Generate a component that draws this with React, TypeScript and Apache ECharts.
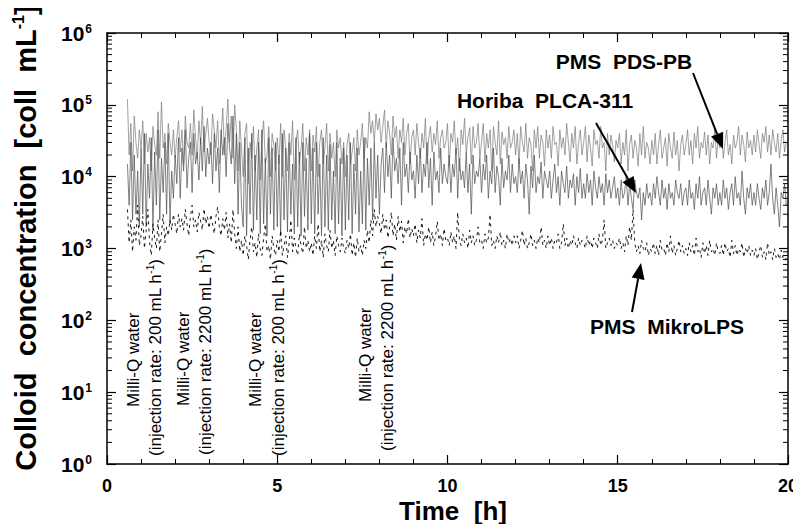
import React, { useEffect, useRef } from 'react';
import * as echarts from 'echarts';

const FONT = '"Liberation Sans", Arial, Helvetica, sans-serif';

// Time grid: first sample at 0.6 h, one sample every 0.05 h
const T_START_HUNDREDTHS = 60;
const T_STEP_HUNDREDTHS = 5;

// PMS PDS-PB (values in 1000 coll/mL)
const pdsPbK = [
  120, 20, 55, 12, 70, 30, 18, 45,
  25, 60, 15, 40, 22, 35, 12, 50, 28, 20, 80, 18, 110, 25, 40, 15, 55, 30, 20, 45,
  18, 35, 60, 22, 45, 15, 70, 30, 25, 55, 20, 85, 35, 18, 60, 28, 95, 22, 40, 65,
  30, 20, 75, 45, 25, 60, 15, 35, 90, 20, 50, 120, 30, 70, 18, 100, 45, 12, 60, 25,
  10, 40, 55, 8, 30, 18, 50, 12, 25, 45, 9, 35, 60, 15, 20, 50, 10, 40, 28, 12,
  35, 15, 55, 10, 45, 25, 12, 40, 20, 60, 9, 30, 45, 15, 25, 55, 12, 35, 20, 45,
  12, 38, 22, 50, 10, 30, 45, 15, 25, 55, 12, 40, 18, 30, 10, 45, 25, 35, 15, 30,
  10, 28, 40, 15, 22, 35, 12, 45, 20, 30, 55, 18, 35, 25, 80, 40, 60, 30, 75, 45,
  65, 30, 50, 85, 25, 60, 40, 20, 70, 35, 50, 18, 45, 30, 65, 20, 40, 55, 15, 35,
  45, 20, 55, 30, 18, 40, 25, 65, 15, 35, 50, 22, 40, 28, 60, 18, 35, 45, 25, 30,
  55, 14, 40, 30, 60, 20, 35, 12, 45, 28, 65, 22, 35, 48, 15, 50, 25, 30, 55, 18,
  30, 55, 16, 40, 25, 45, 12, 50, 30, 20, 60, 15, 42, 28, 35, 18, 50, 25, 30, 45,
  20, 40, 15, 50, 30, 22, 55, 18, 35, 28, 12, 45, 25, 50, 18, 38, 30, 14, 45, 25,
  38, 18, 50, 28, 30, 14, 45, 25, 35, 20, 55, 30, 16, 40, 25, 50, 15, 30, 45, 20,
  30, 50, 16, 38, 25, 14, 45, 28, 32, 18, 50, 25, 30, 12, 40, 20, 38, 28, 16, 32,
  25, 40, 15, 30, 20, 45, 12, 28, 38, 18, 32, 25, 14, 40, 20, 50, 18, 30, 25, 15,
  32, 20, 40, 15, 28, 45, 18, 25, 35, 14, 40, 25, 18, 42, 20, 32, 12, 28, 38, 20,
  28, 45, 20, 32, 15, 40, 25, 50, 18, 30, 25, 42, 20, 38, 15, 30, 25, 45, 18, 35,
  25, 40, 18, 30, 45, 20, 28, 15, 38, 25, 30, 50, 20, 38, 28, 16, 42, 25, 32, 20,
  38, 22, 45, 28, 18, 40, 30, 50, 22, 38, 20, 45, 30, 22, 40, 18, 32, 45, 22, 30,
];

// Horiba PLCA-311 (values in 1000 coll/mL)
const horibaK = [
  15, 4, 30, 2.5, 20, 3, 12, 2,
  25, 3, 40, 2, 15, 5, 35, 1.8, 22, 4, 45, 2.5, 18, 6, 30, 3, 40, 2.2, 12, 5,
  20, 8, 35, 5, 25, 12, 45, 7, 18, 30, 6, 40, 15, 22, 9, 35, 12, 50, 10, 25,
  15, 30, 8, 40, 12, 25, 6, 45, 20, 35, 10, 55, 25, 15, 70, 8, 40, 3, 30, 4,
  2, 35, 1.5, 25, 3, 40, 1.8, 20, 2.5, 30, 1.6, 45, 2.2, 18, 1.5, 35, 3, 25, 1.8, 30,
  2, 20, 1.5, 40, 2.5, 25, 1.7, 30, 3, 15, 1.6, 35, 2, 22, 1.5, 30, 2.8, 18, 1.8, 40,
  2.2, 25, 1.6, 30, 3, 15, 1.5, 35, 2, 20, 1.8, 28, 2.5, 12, 1.6, 30, 2.2, 18, 1.5, 25,
  1.8, 20, 2.5, 30, 1.6, 15, 3, 25, 1.7, 12, 2.2, 35, 1.8, 18, 4, 25, 2.5, 30, 5, 20,
  3, 15, 25, 6, 30, 10, 20, 5, 35, 12, 18, 8, 25, 4, 30, 10, 15, 6, 22, 9,
  12, 5, 20, 8, 25, 6, 15, 10, 30, 7, 18, 4, 22, 9, 12, 6, 25, 8, 15, 10,
  8, 20, 6, 15, 10, 25, 5, 18, 9, 12, 7, 22, 6, 15, 3, 20, 8, 12, 10, 18,
  6, 15, 9, 20, 5, 12, 8, 25, 6, 14, 10, 4, 18, 7, 12, 9, 20, 6, 15, 8,
  10, 6, 18, 8, 12, 5, 15, 9, 3, 14, 7, 20, 6, 10, 8, 16, 5, 12, 9, 7,
  12, 5, 9, 15, 6, 10, 4, 12, 8, 6, 14, 5, 9, 7, 11, 4, 10, 6, 13, 5,
  8, 5, 11, 6, 9, 4, 12, 7, 5, 10, 6, 8, 4, 11, 6, 9, 5, 7, 10, 5,
  7, 4, 9, 5, 6, 10, 4, 8, 5, 3.5, 9, 6, 5, 7, 2.5, 6, 4, 8, 5, 6,
  4, 8, 5, 10, 6, 4, 9, 5, 7, 3.5, 8, 5, 6, 4, 9, 6, 5, 8, 4, 6,
  7, 4, 9, 5, 6, 3.5, 8, 5, 10, 4, 6, 7, 4, 9, 5, 3, 7, 5, 8, 4,
  6, 4, 9, 5, 7, 3.5, 6, 8, 4, 10, 5, 6, 4, 12, 5, 3, 7, 5, 8, 4,
  6, 4, 8, 5, 3.5, 7, 5, 9, 4, 6, 15, 5, 3, 7, 4, 2, 6, 5, 8, 4,
];

// PMS MikroLPS (values in 1000 coll/mL)
const mikroK = [
  3.5, 1.2, 2.5, 0.9, 2, 1.3, 4, 1.1,
  1.5, 2.8, 1, 1.8, 3.5, 1.2, 0.8, 2.2, 1.4, 1, 2.5, 0.9, 1.6, 3, 1.2, 2, 1.5, 2.5, 1.8, 3,
  2.2, 1.6, 3, 2, 2.6, 1.8, 3.5, 2.2, 1.5, 2.8, 4, 2, 2.5, 1.7, 3.2, 2.4, 1.8, 3.6, 2.2, 2.8,
  1.9, 3, 2.2, 1.6, 2.8, 3.8, 2, 1.5, 2.6, 1.8, 3.2, 1.4, 2.2, 1.2, 3.5, 1.6, 1, 2, 0.9, 1.3,
  0.8, 1.5, 1.1, 0.7, 1.3, 2, 0.9, 1.2, 0.75, 1.6, 1, 0.8, 1.4, 2.2, 0.9, 1.1, 0.7, 1.5, 1, 0.8,
  1.3, 0.9, 1.8, 0.8, 1.1, 1.5, 0.75, 1.2, 2.5, 0.9, 1.4, 1, 0.8, 1.6, 1.1, 0.85, 2, 1, 1.3, 0.9,
  1.2, 0.8, 1.5, 1, 2.2, 0.9, 1.3, 0.75, 1.6, 1.1, 0.9, 1.8, 1, 1.3, 0.8, 1.5, 1.1, 0.9, 1.4, 1,
  0.85, 1.3, 1, 1.6, 0.8, 1.2, 0.75, 1.4, 0.9, 1.1, 0.8, 1.3, 1, 1.8, 1.2, 2.5, 1.5, 3.5, 2, 2.8,
  2.2, 1.6, 3, 1.8, 2.5, 1.4, 2, 3.2, 1.5, 2.2, 1.3, 2.8, 1.7, 2.4, 1.2, 2, 1.6, 2.6, 1.4, 1.9,
  1.5, 2.2, 1.2, 1.8, 1.4, 2.6, 1.1, 1.6, 1.3, 2, 1.2, 1.7, 1.1, 1.5, 2.4, 1.3, 1.6, 1.1, 1.9, 1.3,
  1.4, 1.1, 1.7, 1.2, 1.5, 1, 3.2, 1.3, 1.1, 1.6, 1.2, 1.4, 1, 1.8, 1.2, 1.5, 1.1, 1.3, 2, 1.2,
  1.3, 1, 1.6, 1.2, 1.4, 3, 1.1, 1.3, 1, 1.5, 1.2, 1.7, 1.1, 1.3, 1, 1.6, 1.2, 1.4, 1.1, 1.5,
  1.2, 1.5, 1, 1.3, 1.8, 1.1, 1.4, 1, 1.2, 1.6, 1.1, 1.3, 1, 1.4, 1.2, 2, 1.1, 1.3, 1, 1.5,
  1.1, 1.4, 1, 1.3, 1.2, 1.6, 1, 1.2, 2.2, 1.1, 1.4, 1, 1.3, 1.1, 1.5, 1.2, 1, 1.4, 1.1, 1.3,
  1.2, 1, 1.5, 1.1, 1.3, 1, 1.4, 1.2, 1, 1.6, 1.1, 1.3, 2.5, 1, 1.2, 1.4, 1.1, 1.3, 1, 1.2,
  1.1, 1.4, 1, 1.2, 0.9, 1.5, 1.1, 2, 1.3, 3.5, 1.2, 0.9, 1.1, 0.85, 1.3, 1, 0.9, 1.2, 0.8, 1,
  0.9, 1.2, 0.85, 1.1, 0.8, 1.3, 0.95, 1, 0.8, 1.2, 0.9, 1.5, 0.85, 1.1, 0.8, 1, 1.3, 0.9, 1.1, 0.85,
  1, 0.8, 1.2, 0.9, 1.1, 0.8, 1.4, 0.9, 1, 0.75, 1.2, 0.85, 1.1, 0.8, 1.3, 0.9, 1, 0.8, 1.2, 0.9,
  0.85, 1.1, 0.8, 1.2, 0.9, 1, 0.75, 1.3, 0.85, 1.1, 0.8, 1, 0.9, 1.2, 0.75, 1, 0.85, 1.1, 0.8, 0.95,
  0.8, 1, 0.7, 0.9, 1.1, 0.75, 0.9, 0.7, 1.2, 0.8, 0.9, 0.7, 1, 0.75, 0.85, 0.7, 0.95, 0.75, 0.8, 0.7,
];

const seriesNames = ['PMS PDS-PB', 'Horiba PLCA-311', 'PMS MikroLPS'];
const seriesLabels = ['PMS  PDS-PB', 'Horiba  PLCA-311', 'PMS  MikroLPS'];

const annotationTexts = [
  ['Milli-Q water', '(injection rate: 200 mL h{s|-1})'],
  ['Milli-Q water', '(injection rate: 2200 mL h{s|-1})'],
  ['Milli-Q water', '(injection rate: 200 mL h{s|-1})'],
  ['Milli-Q water', '(injection rate: 2200 mL h{s|-1})'],
];

const toPairs = (arr: number[]) =>
  arr.map((v, i) => [(T_START_HUNDREDTHS + i * T_STEP_HUNDREDTHS) / 100, v * 1000]);

function arrow(x1: number, y1: number, x2: number, y2: number) {
  const dx = x2 - x1;
  const dy = y2 - y1;
  const len = Math.sqrt(dx * dx + dy * dy);
  const ux = dx / len;
  const uy = dy / len;
  const hl = 16;
  const hw = 6.5;
  const bx = x2 - ux * hl;
  const by = y2 - uy * hl;
  const nx = -uy;
  const ny = ux;
  return [
    {
      type: 'line',
      shape: { x1, y1, x2: bx, y2: by },
      style: { stroke: '#000', lineWidth: 2 },
      z: 100,
    },
    {
      type: 'polygon',
      shape: {
        points: [
          [x2, y2],
          [bx + nx * hw, by + ny * hw],
          [bx - nx * hw, by - ny * hw],
        ],
      },
      style: { fill: '#000' },
      z: 100,
    },
  ];
}

export default function App() {
  const ref = useRef<HTMLDivElement>(null);

  useEffect(() => {
    if (!ref.current) return;
    const chart = echarts.init(ref.current, undefined, { renderer: 'svg' });

    const minorLogTicks: number[][] = [];
    for (let k = 0; k < 6; k++) {
      for (let m = 2; m <= 9; m++) minorLogTicks.push([0, m * Math.pow(10, k)]);
    }

    const xAxisBase = {
      type: 'value',
      min: 0,
      max: 20,
      interval: 5,
      axisLine: { show: true, onZero: false, lineStyle: { color: '#000', width: 1.5 } },
      axisTick: { show: true, inside: true, length: 9, lineStyle: { color: '#000', width: 1.2 } },
      minorTick: { show: true, splitNumber: 5, length: 5, lineStyle: { color: '#000', width: 1 } },
      splitLine: { show: false },
    };
    const yAxisBase = {
      type: 'log',
      logBase: 10,
      min: 1,
      max: 1000000,
      splitNumber: 6,
      axisLine: { show: true, onZero: false, lineStyle: { color: '#000', width: 1.5 } },
      axisTick: { show: true, inside: true, length: 9, lineStyle: { color: '#000', width: 1.2 } },
      splitLine: { show: false },
    };

    const graphics: any[] = [];
    graphics.push({
      type: 'text',
      x: 26,
      y: 238,
      rotation: Math.PI / 2,
      style: {
        text: 'Colloid  concentration  [coll  mL{s|-1}]',
        fontSize: 29,
        fontWeight: 'bold',
        fontFamily: FONT,
        fill: '#000',
        align: 'center',
        verticalAlign: 'middle',
        rich: {
          s: { fontSize: 16, fontWeight: 'bold', fontFamily: FONT, verticalAlign: 'top', lineHeight: 32 },
        },
      },
    });
    graphics.push({
      type: 'text',
      x: 453,
      y: 511,
      style: {
        text: 'Time  [h]',
        fontSize: 26,
        fontWeight: 'bold',
        fontFamily: FONT,
        fill: '#000',
        align: 'center',
        verticalAlign: 'middle',
      },
    });

    const colPos = [
      [133, 407, 155, 456],
      [183, 406, 205, 455],
      [255, 407, 278, 456],
      [365, 402, 387, 451],
    ];
    annotationTexts.forEach((pair, i) => {
      const p = colPos[i];
      [0, 1].forEach((j) => {
        graphics.push({
          type: 'text',
          x: p[j * 2],
          y: p[j * 2 + 1],
          rotation: Math.PI / 2,
          style: {
            text: pair[j],
            fontSize: 17,
            fontFamily: FONT,
            fill: '#000',
            align: 'left',
            verticalAlign: 'middle',
            rich: {
              s: { fontSize: 10, fontFamily: FONT, verticalAlign: 'top', lineHeight: 19 },
            },
          },
        });
      });
    });

    const labelPos = [
      [624, 61, 693, 73, 723, 149],
      [545, 100, 596, 123, 636, 193],
      [667, 326, 632, 312, 641, 263],
    ];
    seriesLabels.forEach((t, i) => {
      const p = labelPos[i];
      graphics.push({
        type: 'text',
        x: p[0],
        y: p[1],
        style: {
          text: t,
          fontSize: 21,
          fontWeight: 'bold',
          fontFamily: FONT,
          fill: '#000',
          align: 'center',
          verticalAlign: 'middle',
        },
      });
      arrow(p[2], p[3], p[4], p[5]).forEach((g) => graphics.push(g));
    });

    chart.setOption({
      animation: false,
      backgroundColor: '#fff',
      grid: { left: 107, right: 13, top: 33, bottom: 68, containLabel: false },
      xAxis: [
        {
          ...xAxisBase,
          position: 'bottom',
          axisLabel: {
            show: true,
            fontSize: 18,
            fontWeight: 'bold',
            fontFamily: FONT,
            color: '#000',
            margin: 13,
          },
        },
        { ...xAxisBase, position: 'top', axisLabel: { show: false } },
      ],
      yAxis: [
        {
          ...yAxisBase,
          position: 'left',
          axisLabel: {
            show: true,
            margin: 15,
            color: '#000',
            formatter: (v: number) => `{b|10}{s|${Math.round(Math.log10(v))}}`,
            rich: {
              b: { fontSize: 21, fontWeight: 'bold', fontFamily: FONT, color: '#000' },
              s: { fontSize: 12, fontWeight: 'bold', fontFamily: FONT, color: '#000', verticalAlign: 'top', padding: [0, 0, 0, 1] },
            },
          },
        },
        { ...yAxisBase, position: 'right', axisLabel: { show: false } },
      ],
      series: [
        {
          name: seriesNames[0],
          type: 'line',
          data: toPairs(pdsPbK),
          showSymbol: false,
          symbol: 'none',
          lineStyle: { color: '#7a7a7a', width: 0.7 },
          z: 2,
        },
        {
          name: seriesNames[1],
          type: 'line',
          data: toPairs(horibaK),
          showSymbol: false,
          symbol: 'none',
          lineStyle: { color: '#4d4d4d', width: 0.7 },
          z: 3,
        },
        {
          name: seriesNames[2],
          type: 'line',
          data: toPairs(mikroK),
          showSymbol: false,
          symbol: 'none',
          lineStyle: { color: '#000', width: 0.9, type: [3, 4] },
          z: 4,
        },
        {
          type: 'custom',
          data: minorLogTicks,
          encode: { x: 0, y: 1 },
          clip: false,
          silent: true,
          z: 5,
          renderItem: (params: any, api: any) => {
            const v = api.value(1);
            const l = api.coord([0, v]);
            const r = api.coord([20, v]);
            return {
              type: 'group',
              children: [
                { type: 'line', shape: { x1: l[0], y1: l[1], x2: l[0] + 5, y2: l[1] }, style: { stroke: '#000', lineWidth: 1 } },
                { type: 'line', shape: { x1: r[0], y1: r[1], x2: r[0] - 5, y2: r[1] }, style: { stroke: '#000', lineWidth: 1 } },
              ],
            };
          },
        },
      ],
      graphic: graphics,
    });

    return () => chart.dispose();
  }, []);

  return <div ref={ref} style={{ width: 801, height: 532, margin: -8 }} />;
}
